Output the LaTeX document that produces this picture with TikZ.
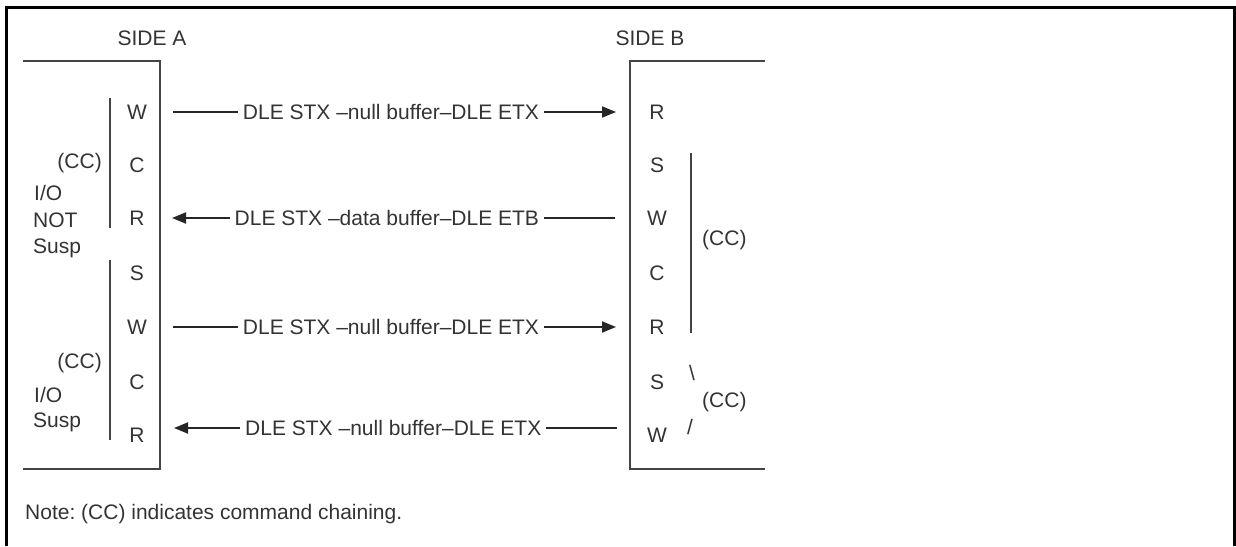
\documentclass[tikz,border=0pt]{standalone}
\usepackage{fontspec}
\setmainfont{Liberation Sans}
\usetikzlibrary{arrows.meta}
\definecolor{ink}{HTML}{333333}
\definecolor{boxgray}{HTML}{444444}
\begin{document}
\frenchspacing
\begin{tikzpicture}[x=1pt,y=-1pt,
  every node/.style={inner sep=0pt, text=ink, font=\fontsize{21}{24}\selectfont},
  frame/.style={line width=2.6pt, black},
  boxline/.style={line width=2.2pt, boxgray},
  bar/.style={line width=2.2pt, boxgray},
  msg/.style={line width=1.9pt, black!85, -{Triangle[length=14pt,width=11pt]}},
  msglabel/.style={fill=white, inner xsep=5pt, inner ysep=2pt},
  letter/.style={anchor=center},
  lbl/.style={anchor=west}]
\useasboundingbox (0,0) rectangle (1236,546);
% outer frame (open at bottom)
\draw[frame] (6.5,546) -- (6.5,7.5) -- (1234.5,7.5) -- (1234.5,546);
% titles
\node (sidea) at (152,38) {SIDE A};
\node (sideb) at (650,38) {SIDE B};
% box A
\draw[boxline] (23,61) -- (160,61) -- (160,469) -- (23,469);
% box B
\draw[boxline] (765,61) -- (630,61) -- (630,469) -- (765,469);
% side A letters
\node[letter] (aw1) at (137,112) {W};
\node[letter] (ac1) at (137,165) {C};
\node[letter] (ar1) at (137,218) {R};
\node[letter] (as1) at (137,273) {S};
\node[letter] (aw2) at (137,327) {W};
\node[letter] (ac2) at (137,382) {C};
\node[letter] (ar2) at (137,435) {R};
% side B letters
\node[letter] (br1) at (657,112) {R};
\node[letter] (bs1) at (657,165) {S};
\node[letter] (bw1) at (657,218) {W};
\node[letter] (bc1) at (657,273) {C};
\node[letter] (br2) at (657,327) {R};
\node[letter] (bs2) at (657,382) {S};
\node[letter] (bw2) at (657,435) {W};
% side A grouping bars
\coordinate (ab1t) at (110,98);
\coordinate (ab1b) at (110,228);
\coordinate (ab2t) at (110,260);
\coordinate (ab2b) at (110,440);
\draw[bar] (ab1t) -- (ab1b);
\draw[bar] (ab2t) -- (ab2b);
\node[anchor=east] (acc1) at (102,163) {(CC)};
\node[lbl] (aio1) at (34,193) {I/O};
\node[lbl] (anot) at (33,220) {NOT};
\node[lbl] (asusp1) at (33,248) {Susp};
\node[anchor=east] (acc2) at (102,363) {(CC)};
\node[lbl] (aio2) at (34,395) {I/O};
\node[lbl] (asusp2) at (33,422) {Susp};
% side B grouping
\coordinate (bbt) at (691,153);
\coordinate (bbb) at (691,333);
\draw[bar] (bbt) -- (bbb);
\node[lbl] (bcc1) at (702,240) {(CC)};
\node (bslash) at (692,373) {\textbackslash};
\node (fslash) at (690,427) {/};
\node[lbl] (bcc2) at (702,402) {(CC)};
% message coordinates
\coordinate (m1s) at (173,112); \coordinate (m1e) at (616,112);
\coordinate (m2s) at (615,218); \coordinate (m2e) at (172,218);
\coordinate (m3s) at (173,327); \coordinate (m3e) at (616,327);
\coordinate (m4s) at (617,428); \coordinate (m4e) at (174,428);
\draw[msg] (m1s) -- node[msglabel, pos=0.492] (t1) {DLE STX –null buffer–DLE ETX} (m1e);
\draw[msg] (m2s) -- node[msglabel, pos=0.515] (t2) {DLE STX –data buffer–DLE ETB} (m2e);
\draw[msg] (m3s) -- node[msglabel, pos=0.492] (t3) {DLE STX –null buffer–DLE ETX} (m3e);
\draw[msg] (m4s) -- node[msglabel, pos=0.505] (t4) {DLE STX –null buffer–DLE ETX} (m4e);
% note
\node[lbl] (note) at (25,514) {Note: (CC) indicates command chaining.};
\end{tikzpicture}
\end{document}
